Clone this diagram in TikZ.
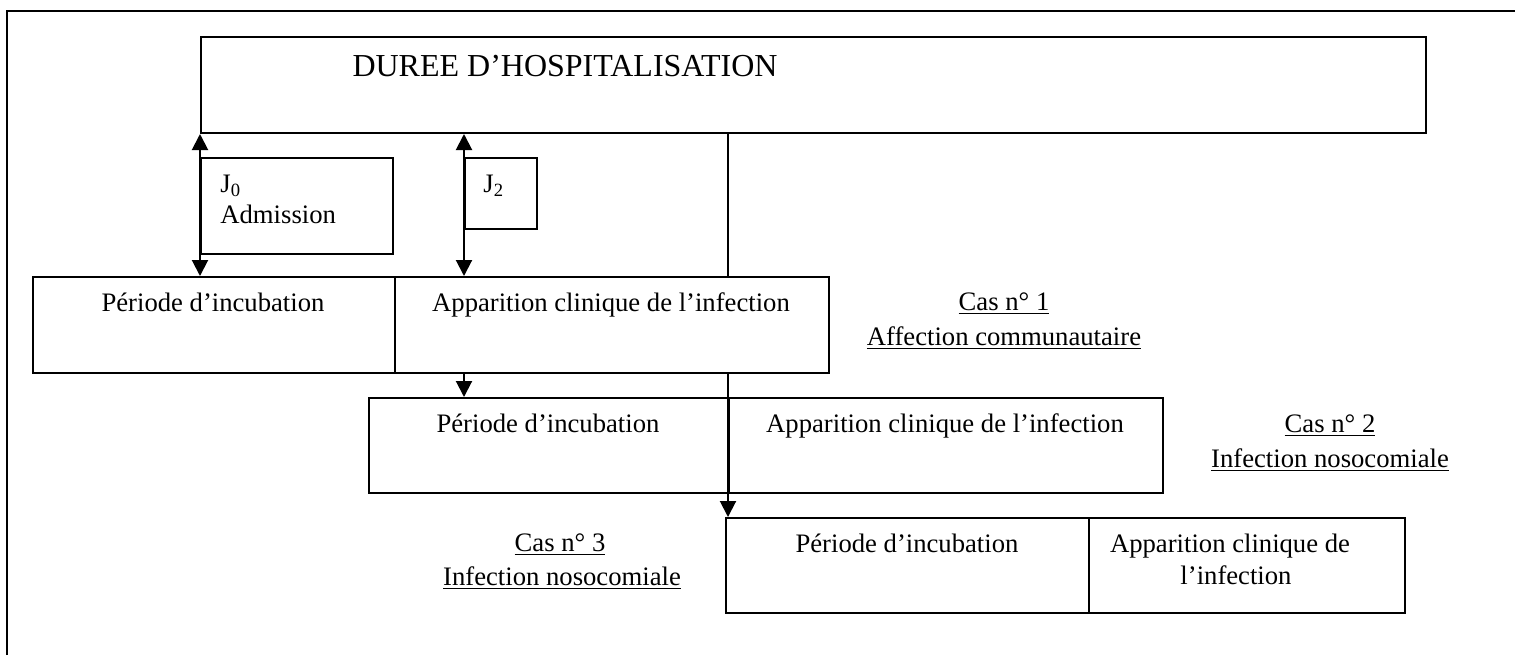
\documentclass[tikz,border=0pt]{standalone}
\usepackage{fontspec}
\setmainfont{Liberation Serif}
\usetikzlibrary{arrows.meta}
\begin{document}
\begin{tikzpicture}[x=0.5pt,y=-0.5pt,
  box/.style={draw,line width=1pt,rectangle,inner sep=0pt,anchor=north west},
  lbl/.style={inner sep=0pt,anchor=base,font=\fontsize{13.33}{15.5}\selectfont},
  big/.style={inner sep=0pt,anchor=base,font=\fontsize{16}{18}\selectfont},
  link/.style={line width=1pt},
  tip/.style={-{Triangle[length=8pt,width=8pt]}},
  both/.style={{Triangle[length=8pt,width=8pt]}-{Triangle[length=8pt,width=8pt]}}]
\useasboundingbox (0,0) rectangle (1515,655);
% page frame (only top and left edges fall inside the page)
\draw[line width=1.2pt] (7,655) -- (7,11) -- (1515,11);

% boxes
\node[box,minimum width=612.5pt,minimum height=48pt] (top) at (200,36) {};
\node[box,minimum width=96pt,minimum height=48pt] (j0) at (200,157) {};
\node[box,minimum width=36pt,minimum height=35.5pt] (j2) at (464,157) {};
\node[box,minimum width=181pt,minimum height=48pt] (r1a) at (32,276) {};
\node[box,minimum width=217pt,minimum height=48pt] (r1b) at (394,276) {};
\node[box,minimum width=180pt,minimum height=47.5pt] (r2a) at (368,397) {};
\node[box,minimum width=217pt,minimum height=47.5pt] (r2b) at (728,397) {};
\node[box,minimum width=181.5pt,minimum height=47.5pt] (r3a) at (725,517) {};
\node[box,minimum width=158pt,minimum height=47.5pt] (r3b) at (1088,517) {};

% texts
\node[big] (tdur) at (565,76) {DUREE D’HOSPITALISATION};
\node[lbl,anchor=base west] (tj0) at (220,192) {J\textsubscript{0}};
\node[lbl,anchor=base west] (tadm) at (220,223) {Admission};
\node[lbl,anchor=base west] (tj2) at (483,192) {J\textsubscript{2}};
\node[lbl] (t1a) at (213,311) {Période d’incubation};
\node[lbl] (t1b) at (611,311) {Apparition clinique de l’infection};
\node[lbl] (c1a) at (1004,310) {\underline{Cas n° 1}};
\node[lbl] (c1b) at (1004,345) {\underline{Affection communautaire}};
\node[lbl] (t2a) at (548,432) {Période d’incubation};
\node[lbl] (t2b) at (945,432) {Apparition clinique de l’infection};
\node[lbl] (c2a) at (1330,432) {\underline{Cas n° 2}};
\node[lbl] (c2b) at (1330,467) {\underline{Infection nosocomiale}};
\node[lbl] (c3a) at (560,551) {\underline{Cas n° 3}};
\node[lbl] (c3b) at (562,585) {\underline{Infection nosocomiale}};
\node[lbl] (t3a) at (907,552) {Période d’incubation};
\node[lbl] (t3b) at (1230,552) {Apparition clinique de};
\node[lbl] (t3c) at (1236,584) {l’infection};

% connectors
\draw[link,both] (top.south west) -- (top.south west |- r1a.north);
\draw[link,both] (j2.west |- top.south) -- (j2.west |- r1b.north);
\coordinate (drop) at (728,0);
\draw[link] (drop |- top.south) -- (drop |- r1b.north);
\draw[link,tip] (drop |- r1b.south) -- (drop |- r3a.north);
\draw[link,tip] (j2.west |- r1a.south) -- (j2.west |- r2a.north);
\end{tikzpicture}
\end{document}
